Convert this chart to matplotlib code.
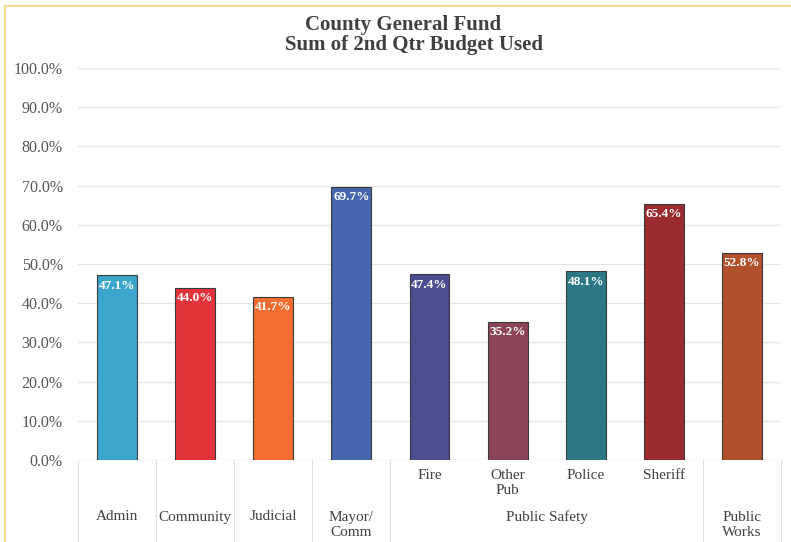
import matplotlib
matplotlib.use("Agg")
import matplotlib.pyplot as plt
from matplotlib.lines import Line2D

categories = ["Admin", "Community", "Judicial", "Mayor/\nComm", "Fire", "Other\nPub", "Police", "Sheriff", "Public\nWorks"]
groups = ["Admin", "Community", "Judicial", "Mayor/\nComm", "Public Safety", "Public Safety", "Public Safety", "Public Safety", "Public\nWorks"]
values = [47.1, 44.0, 41.7, 69.7, 47.4, 35.2, 48.1, 65.4, 52.8]
colors = ["#3AA6CB", "#E2333B", "#F26D2F", "#4467B0", "#4D4E8F", "#8C4458", "#2C7887", "#9B2A31", "#B0502C"]
yticks = [0, 10, 20, 30, 40, 50, 60, 70, 80, 90, 100]

plt.rcParams['font.family'] = ['Liberation Serif', 'DejaVu Serif']

fig = plt.figure(figsize=(7.91, 5.42), dpi=100)
W, H = 791, 542
ax = fig.add_axes([78 / W, 1 - 460 / H, (781 - 78) / W, (460 - 68) / H])

x = list(range(len(values)))
ax.bar(x, values, width=0.51, color=colors, edgecolor="#3a3a3a", linewidth=0.8, zorder=3)
for xi, v in zip(x, values):
    ax.text(xi, v - 1.1, f"{v:.1f}%", ha="center", va="top", color="white",
            fontsize=9.5, fontweight="bold", zorder=4)

ax.set_xlim(-0.5, len(values) - 0.5)
ax.set_ylim(0, 100)
ax.set_yticks(yticks)
ax.set_yticklabels([f"{t:.1f}%" for t in yticks], color="#555555", fontsize=11.5)
ax.tick_params(axis="y", length=0, pad=11)
ax.set_xticks([])
ax.grid(axis="y", color="#e6e6e6", linewidth=0.9, zorder=0)
for s in ax.spines.values():
    s.set_visible(False)
ax.axhline(0, color="#d9d9d9", linewidth=0.9, zorder=2)

trans = ax.get_xaxis_transform()

def axfrac(py):
    return (460 - py) / (460 - 68)

bottom = axfrac(542)
bounds_full = [-0.5, 0.5, 1.5, 2.5, 3.5, 7.5, 8.5]
for b in bounds_full:
    ax.add_line(Line2D([b, b], [0, bottom], transform=trans, color="#e0e0e0",
                       linewidth=0.8, clip_on=False))

lab_kw = dict(transform=trans, ha="center", color="#404040",
              fontsize=11, clip_on=False, linespacing=1.2)
for i in range(4, 8):
    ax.text(i, axfrac(469), categories[i], va="top", **lab_kw)
seen = []
for i, g in enumerate(groups):
    if g in seen:
        continue
    seen.append(g)
    idx = [j for j, gg in enumerate(groups) if gg == g]
    cx = sum(idx) / len(idx)
    if "\n" in g:
        ax.text(cx, axfrac(511), g, va="top", **lab_kw)
    else:
        ax.text(cx, axfrac(517), g, va="center", **lab_kw)

fig.text(403 / W, 1 - 25 / H, "County General Fund", ha="center", va="center",
         fontsize=15, fontweight="bold", color="#404040")
fig.text(414 / W, 1 - 45 / H, "Sum of 2nd Qtr Budget Used", ha="center", va="center",
         fontsize=15, fontweight="bold", color="#404040")

fig.add_artist(Line2D([5 / W, 1], [1 - 6 / H, 1 - 6 / H], transform=fig.transFigure,
                      color="#F3DE8A", linewidth=1.5))
fig.add_artist(Line2D([5 / W, 5 / W], [0, 1 - 6 / H], transform=fig.transFigure,
                      color="#F3DE8A", linewidth=1.5))

fig.savefig("out.png", dpi=100)
